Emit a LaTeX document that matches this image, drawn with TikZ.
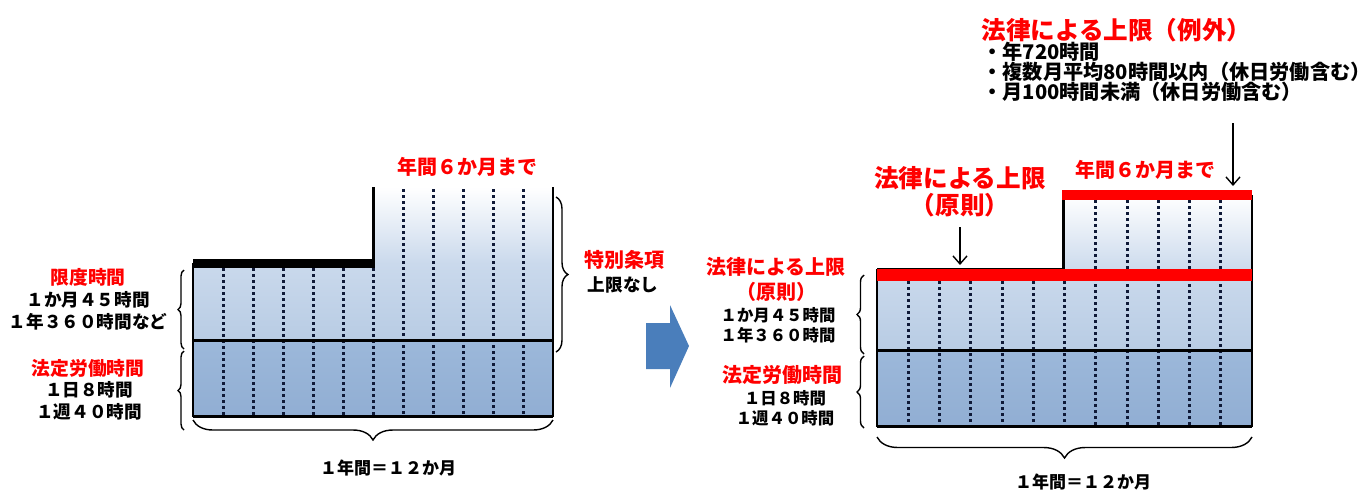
\documentclass[tikz,border=0pt]{standalone}
\usepackage{fontspec}
\setmainfont{Noto Sans CJK JP}
\usepackage{tikz}
\usetikzlibrary{arrows.meta,decorations.pathreplacing}
\definecolor{lightblue}{RGB}{184,204,228}
\definecolor{lightmid}{RGB}{202,217,236}
\definecolor{darktop}{RGB}{156,184,218}
\definecolor{darkblue}{RGB}{145,174,211}
\definecolor{monthnavy}{RGB}{15,25,55}
\definecolor{arrowblue}{RGB}{74,126,187}
\definecolor{lawred}{RGB}{255,0,0}

\begin{document}
\begin{tikzpicture}[x=0.5pt, y=-0.5pt,
        lightband/.style={top color=white, bottom color=lightblue, middle color=lightmid},
        darkband/.style={top color=darktop, bottom color=darkblue},
        month/.style={draw=monthnavy, line width=1.5pt, dash pattern=on 1.4pt off 1.6pt},
        edge/.style={draw=black, line width=1pt},
        thickedge/.style={draw=black, line width=1.5pt},
        redbar/.style={draw=lawred, line width=#1},
        pointer/.style={-{Straight Barb[length=4pt,width=7pt]}, line width=0.7pt},
        curly/.style={decorate, decoration={brace, amplitude=#1}, line width=0.7pt},
        redhd/.style={text=lawred, inner sep=0pt, align=center, font=\fontsize{10}{12.5}\selectfont\bfseries},
        redsm/.style={text=lawred, inner sep=0pt, font=\fontsize{9.4}{11}\selectfont\bfseries},
        redbig/.style={text=lawred, inner sep=0pt, align=center, font=\fontsize{12.3}{13.5}\selectfont\bfseries},
        blacktxt/.style={inner sep=0pt, align=center, font=\fontsize{8.8}{11}\selectfont\bfseries},
        blacksm/.style={inner sep=0pt, align=center, font=\fontsize{8.2}{10}\selectfont\bfseries},
        listtxt/.style={inner sep=0pt, align=left, font=\fontsize{10.1}{9.9}\selectfont\bfseries},
        yeartxt/.style={inner sep=0pt, font=\fontsize{8.5}{10}\selectfont\bfseries}
    ]
        % Page frame
        \useasboundingbox (0,0) rectangle (1370,489);

        % Left chart: bands
        \shade[lightband] (193,263) -- (373,263) -- (373,187) -- (553,187) -- (553,340) -- (193,340) -- cycle;
        \shade[darkband] (193,340) rectangle (553,416);

        % Left chart: months
        \foreach \i in {1,...,6}
            \draw[month] ({193+30*\i},268) -- ({193+30*\i},416);
        \foreach \i in {7,...,11}
            \draw[month] ({193+30*\i},189) -- ({193+30*\i},416);

        % Left chart: outline
        \draw[edge] (193,263) -- (193,416) -- (553,416) -- (553,187);
        \draw[thickedge] (193,340) -- (553,340);
        \draw[thickedge] (193,416) -- (553,416);
        \draw[thickedge] (373,187) -- (373,263);
        \draw[line width=4.5pt] (193,263.5) -- (374.5,263.5);

        % Left chart: labels
        \node[redsm] (kendoHd) at (88,277) {限度時間};
        \node[blacktxt] (kendoTxt) at (88,311) {１か月４５時間\\１年３６０時間など};
        \node[redsm] (hoteiHd) at (88,368) {法定労働時間};
        \node[blacktxt] (hoteiTxt) at (89,401) {１日８時間\\１週４０時間};
        \draw[curly=3pt] (184,349) -- (184,270);
        \draw[curly=3pt] (184,430) -- (184,351);

        \node[redhd] (sixL) at (467,167) {年間６か月まで};
        \draw[curly=6pt] (556,197) -- (556,352);
        \node[redhd] (tokubetsu) at (624,260) {特別条項};
        \node[blacktxt] (nolimit) at (623,285) {上限なし};

        \draw[curly=10pt] (553,420) -- (193,420);
        \node[yeartxt] (yearL) at (388,468) {１年間＝１２か月};

        % Arrow
        \fill[arrowblue] (646,323) -- (670,323) -- (670,305) -- (689,346) -- (670,388) -- (670,369) -- (646,369) -- cycle;

        % Right chart: bands
        \shade[lightband] (877,269) -- (1063,269) -- (1063,195) -- (1252,195) -- (1252,350) -- (877,350) -- cycle;
        \shade[darkband] (877,350) rectangle (1252,426);

        % Right chart: months
        \foreach \i in {1,...,6}
            \draw[month] ({877+31.25*\i},281) -- ({877+31.25*\i},426);
        \foreach \i in {7,...,11}
            \draw[month] ({877+31.25*\i},200) -- ({877+31.25*\i},426);

        % Right chart: outline
        \draw[edge] (877,269) -- (877,426) -- (1252,426) -- (1252,195);
        \draw[edge] (877,268.5) -- (1063,268.5);
        \draw[thickedge] (1063,268.5) -- (1063,195);
        \draw[thickedge] (877,350) -- (1252,350);
        \draw[thickedge] (877,426) -- (1252,426);
        \draw[redbar=6pt] (877,275) -- (1252,275);
        \draw[redbar=5pt] (1062,195) -- (1252,195);

        % Right chart: labels
        \node[redhd] (gensokuHd) at (776,279.5) {法律による上限\\（原則）};
        \node[blacksm] (gensokuTxt) at (778,325) {１か月４５時間\\１年３６０時間};
        \node[redhd] (hoteiHdR) at (782,375) {法定労働時間};
        \node[blacksm] (hoteiTxtR) at (785,408) {１日８時間\\１週４０時間};
        \draw[curly=3.5pt] (864,354) -- (864,275);
        \draw[curly=3.5pt] (864,428) -- (864,356);

        \node[redbig] (gensokuTop) at (960,191.5) {法律による上限\\（原則）};
        \coordinate (gensokuTip) at (960,265);
        \draw[pointer, shorten <=5pt] (gensokuTop.south) -- (gensokuTip);

        \node[redhd] (sixR) at (1145,170) {年間６か月まで};

        % Exceptions
        \node[redbig, anchor=west] (reigaiHd) at (981,30) {法律による上限（例外）};
        \node[listtxt, anchor=west] (reigaiList) at (982,72) {・年720時間\\・複数月平均80時間以内（休日労働含む）\\・月100時間未満（休日労働含む）};
        \coordinate (reigaiFrom) at (1233,123);
        \coordinate (reigaiTip) at (1233,186);
        \draw[pointer] (reigaiFrom) -- (reigaiTip);

        \draw[curly=10.5pt] (1252,437) -- (877,437);
        \node[yeartxt] (yearR) at (1083,482) {１年間＝１２か月};

    \end{tikzpicture}
\end{document}
